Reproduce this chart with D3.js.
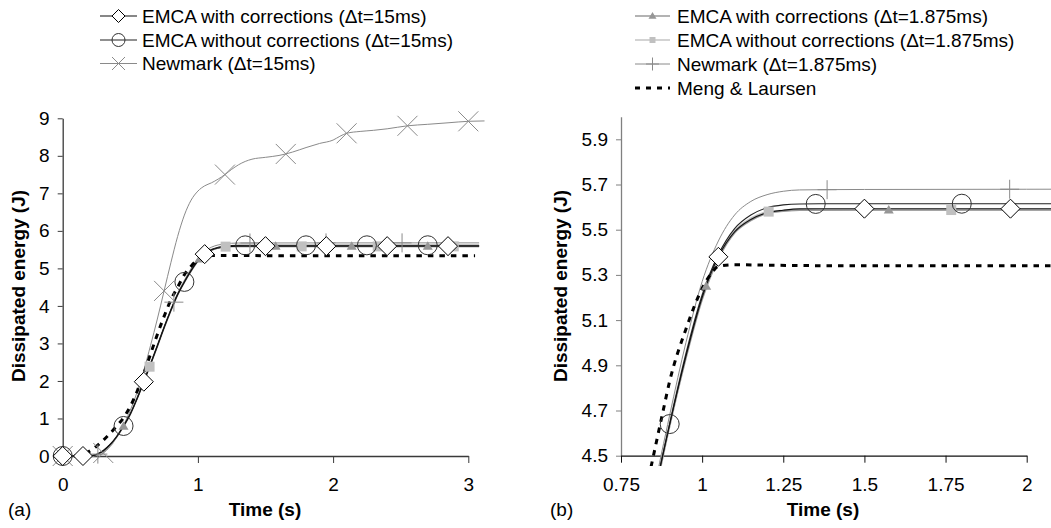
<!DOCTYPE html>
<html><head><meta charset="utf-8">
<script src="https://cdn.jsdelivr.net/npm/d3@7"></script>
<style>
html,body{margin:0;padding:0;background:#fff;}
svg{display:block;font-family:"Liberation Sans",Arial,sans-serif;}
</style></head><body>
<svg id="chart" width="1051" height="528"></svg>
<script>
// ---------- DATA (time s, dissipated energy J) ----------
const seriesNames = [
  "EMCA with corrections (\u0394t=15ms)",
  "EMCA without corrections (\u0394t=15ms)",
  "Newmark (\u0394t=15ms)",
  "EMCA with corrections (\u0394t=1.875ms)",
  "EMCA without corrections (\u0394t=1.875ms)",
  "Newmark (\u0394t=1.875ms)",
  "Meng & Laursen"
];
const emcaCorr15 = [[0,0],[0.15,0],[0.2,0.005],[0.25,0.04],[0.3,0.14],[0.35,0.3],[0.4,0.52],[0.45,0.8],[0.5,1.12],[0.55,1.53],[0.6,1.98],[0.65,2.45],[0.7,2.93],[0.75,3.42],[0.8,3.88],[0.85,4.3],[0.9,4.64],[0.95,4.94],[1.0,5.2],[1.05,5.38],[1.1,5.49],[1.15,5.545],[1.2,5.575],[1.25,5.586],[1.3,5.592],[1.5,5.593],[2.0,5.593],[2.5,5.593],[3.08,5.593]];
const emcaNoCorr15 = [[0,0],[0.15,0],[0.2,0.005],[0.25,0.04],[0.3,0.14],[0.35,0.3],[0.4,0.52],[0.45,0.8],[0.5,1.12],[0.55,1.53],[0.6,1.99],[0.65,2.46],[0.7,2.94],[0.75,3.43],[0.8,3.89],[0.85,4.31],[0.9,4.64],[0.95,4.95],[1.0,5.21],[1.05,5.39],[1.1,5.505],[1.15,5.565],[1.2,5.597],[1.25,5.61],[1.3,5.614],[1.5,5.615],[2.0,5.615],[2.5,5.616],[3.08,5.618]];
const newmark15 = [[0,0],[0.2,0],[0.25,0.01],[0.3,0.08],[0.35,0.25],[0.4,0.5],[0.45,0.82],[0.5,1.22],[0.55,1.7],[0.6,2.28],[0.65,2.95],[0.7,3.65],[0.75,4.4],[0.8,5.15],[0.85,5.85],[0.9,6.42],[0.95,6.82],[1.0,7.06],[1.05,7.2],[1.1,7.28],[1.15,7.38],[1.2,7.5],[1.25,7.64],[1.3,7.76],[1.35,7.85],[1.4,7.91],[1.5,7.96],[1.6,8.01],[1.65,8.05],[1.7,8.1],[1.8,8.22],[1.9,8.33],[2.0,8.42],[2.05,8.52],[2.1,8.6],[2.2,8.65],[2.3,8.68],[2.4,8.72],[2.55,8.8],[2.7,8.84],[2.85,8.88],[3.0,8.92],[3.12,8.93]];
const emcaCorr1875 = [[0,0],[0.2,0],[0.25,0.035],[0.3,0.13],[0.35,0.29],[0.4,0.51],[0.45,0.79],[0.5,1.11],[0.55,1.52],[0.6,1.97],[0.65,2.44],[0.7,2.92],[0.75,3.41],[0.8,3.87],[0.85,4.29],[0.9,4.63],[0.95,4.93],[1.0,5.19],[1.05,5.37],[1.1,5.485],[1.15,5.54],[1.2,5.572],[1.25,5.582],[1.3,5.586],[1.5,5.587],[2.0,5.587],[2.5,5.587],[3.08,5.587]];
const emcaNoCorr1875 = [[0,0],[0.2,0],[0.25,0.04],[0.3,0.14],[0.35,0.3],[0.4,0.52],[0.45,0.8],[0.5,1.13],[0.55,1.55],[0.6,2.0],[0.65,2.46],[0.7,2.94],[0.75,3.43],[0.8,3.89],[0.85,4.31],[0.9,4.65],[0.95,4.95],[1.0,5.21],[1.05,5.385],[1.1,5.495],[1.15,5.55],[1.2,5.578],[1.25,5.585],[1.3,5.587],[1.5,5.587],[2.0,5.587],[2.5,5.587],[3.08,5.587]];
const newmark1875 = [[0,0],[0.2,0],[0.25,0.04],[0.3,0.14],[0.35,0.3],[0.4,0.52],[0.45,0.8],[0.5,1.12],[0.55,1.53],[0.6,1.98],[0.65,2.45],[0.7,2.93],[0.75,3.43],[0.8,3.9],[0.85,4.33],[0.9,4.68],[0.95,5.0],[1.0,5.27],[1.05,5.45],[1.1,5.565],[1.15,5.625],[1.2,5.655],[1.25,5.67],[1.3,5.676],[1.5,5.678],[2.0,5.679],[2.5,5.68],[3.08,5.68]];
const mengLaursen = [[0,0],[0.1,0],[0.15,0.04],[0.2,0.13],[0.25,0.26],[0.3,0.42],[0.35,0.6],[0.4,0.8],[0.45,1.02],[0.5,1.32],[0.55,1.72],[0.6,2.2],[0.65,2.72],[0.7,3.24],[0.75,3.72],[0.8,4.16],[0.85,4.5],[0.88,4.7],[0.9,4.83],[0.95,5.06],[1.0,5.24],[1.03,5.31],[1.05,5.338],[1.1,5.345],[1.2,5.343],[1.5,5.34],[2.0,5.34],[3.05,5.34]];

const emcaCorr15Markers = [[0,0],[0.15,0],[0.6,1.98],[1.05,5.38],[1.5,5.593],[1.95,5.593],[2.4,5.593],[2.85,5.593]];
const emcaNoCorr15Markers = [[0,0],[0.45,0.8],[0.9,4.64],[1.35,5.614],[1.8,5.615],[2.25,5.615],[2.7,5.616]];
const newmark15Markers = [[0,0],[0.3,0.08],[0.75,4.4],[1.2,7.5],[1.65,8.05],[2.1,8.6],[2.55,8.8],[3.0,8.92]];
const emcaCorr1875Markers = [[0,0],[0.45,0.79],[1.0125,5.25],[1.575,5.587],[2.1375,5.587],[2.7,5.587]];
const emcaNoCorr1875Markers = [[0,0],[0.6425,2.38],[1.205,5.58],[1.7675,5.587],[2.33,5.587],[2.8925,5.587]];
const newmark1875Markers = [[0,0],[0.26,0.05],[0.8225,4.1],[1.385,5.677],[1.9475,5.679],[2.51,5.68]];

const xTicksA = [0,1,2,3];
const yTicksA = [0,1,2,3,4,5,6,7,8,9];
const xTicksB = [0.75,1,1.25,1.5,1.75,2];
const yTicksB = [4.5,4.7,4.9,5.1,5.3,5.5,5.7,5.9];
const xTitle = "Time (s)";
const yTitle = "Dissipated energy (J)";
const panelLabels = ["(a)","(b)"];

// ---------- STYLES ----------
const styles = [
  {line:"#111", lw:1.1, marker:"diamond", ms:9.5, mstroke:"#000", mfill:"#fff", lms:6.5},
  {line:"#222", lw:1.1, marker:"circle", ms:9.5, mstroke:"#333", mfill:"none", lms:6.5},
  {line:"#8a8a8a", lw:1, marker:"x", ms:10, mstroke:"#8a8a8a", mfill:"none", lms:6.5},
  {line:"#9a9a9a", lw:1.6, marker:"triangle", ms:10, mstroke:"none", mfill:"#969696", lms:8},
  {line:"#c4c4c4", lw:1.8, marker:"square", ms:10, mstroke:"none", mfill:"#c0c0c0", lms:6},
  {line:"#8a8a8a", lw:1, marker:"plus", ms:9.5, mstroke:"#8a8a8a", mfill:"none", lms:6.5},
  {line:"#000", lw:3, dash:"5.5,6", marker:null}
];
const lineData = [emcaCorr15, emcaNoCorr15, newmark15, emcaCorr1875, emcaNoCorr1875, newmark1875, mengLaursen];
const markerData = [emcaCorr15Markers, emcaNoCorr15Markers, newmark15Markers, emcaCorr1875Markers, emcaNoCorr1875Markers, newmark1875Markers, []];

function symbolPath(type, s){
  switch(type){
    case "diamond": return `M0,${-s}L${s},0L0,${s}L${-s},0Z`;
    case "circle": return d3.arc()({innerRadius:0,outerRadius:s,startAngle:0,endAngle:2*Math.PI});
    case "x": return `M${-s},${-s}L${s},${s}M${-s},${s}L${s},${-s}`;
    case "triangle": return `M0,${-s*0.5}L${s*0.5},${s*0.35}L${-s*0.5},${s*0.35}Z`;
    case "square": return `M${-s/2},${-s/2}h${s}v${s}h${-s}Z`;
    case "plus": return `M${-s},0L${s},0M0,${-s}L0,${s}`;
  }
  return "";
}
function drawMarker(g, st, x, y, s){
  g.append("path").attr("transform",`translate(${x},${y})`)
    .attr("d", symbolPath(st.marker, s))
    .attr("fill", st.mfill).attr("stroke", st.mstroke === "none" ? "none" : st.mstroke)
    .attr("stroke-width", 1);
}

const svg = d3.select("#chart");
const defs = svg.append("defs");

const panels = [
  {xDom:[0,3], xRange:[62.7,468.3], yDom:[0,9], yRange:[456,118.3], xTicks:xTicksA, yTicks:yTicksA,
   xFmt:d=>String(d), yFmt:d=>String(d), series:[0,1,2,3,4,5,6], axisY:"#3a3a3a", axisX:"#3a3a3a",
   clip:[40,100,450,380], yTitleX:18, xTitleX:265, label:panelLabels[0], labelX:8,
   legend:{entries:[0,1,2], x0:100, x1:137, tx:142, ys:[16,40,63.5]}},
  {xDom:[0.75,2], xRange:[621,1026.7], yDom:[4.5,6.0], yRange:[455.7,116.7], xTicks:xTicksB, yTicks:yTicksB,
   xFmt:d=>String(d), yFmt:d=>d.toFixed(1), series:[0,1,3,4,5,6], axisY:"#808080", axisX:"#111",
   clip:[621,100,430,366], yTitleX:560, xTitleX:823, label:panelLabels[1], labelX:550,
   legend:{entries:[3,4,5,6], x0:635, x1:670, tx:677, ys:[16,40,64,88]}}
];

panels.forEach((p, pi) => {
  const x = d3.scaleLinear().domain(p.xDom).range(p.xRange);
  const y = d3.scaleLinear().domain(p.yDom).range(p.yRange);
  const g = svg.append("g");

  // axes
  const yAxis = d3.axisLeft(y).tickValues(p.yTicks).tickFormat(p.yFmt).tickSize(5).tickSizeOuter(0).tickPadding(8);
  const gy = g.append("g").attr("transform",`translate(${p.xRange[0]},0)`).call(yAxis);
  gy.select(".domain").attr("stroke", p.axisY).attr("stroke-width",1.3);
  gy.selectAll(".tick line").attr("stroke", p.axisY);
  gy.selectAll("text").attr("font-size","19px").attr("fill","#000").attr("font-family",'"Liberation Sans",Arial,sans-serif');

  const xAxis = d3.axisBottom(x).tickValues(p.xTicks).tickFormat(p.xFmt).tickSize(7).tickSizeOuter(0).tickPadding(15);
  const gx = g.append("g").attr("transform",`translate(0,${p.yRange[0]})`).call(xAxis);
  gx.select(".domain").attr("stroke", p.axisX).attr("stroke-width",1.3);
  gx.selectAll(".tick line").attr("stroke", p.axisX);
  gx.selectAll("text").attr("font-size","19px").attr("fill","#000").attr("font-family",'"Liberation Sans",Arial,sans-serif');

  // titles
  g.append("text").attr("x", p.xTitleX).attr("y", 516).attr("text-anchor","middle")
    .attr("font-size","19px").attr("font-weight","bold").text(xTitle);
  g.append("text").attr("transform",`translate(${p.yTitleX},286) rotate(-90)`).attr("text-anchor","middle")
    .attr("dominant-baseline","central").attr("font-size","19px").attr("font-weight","bold").text(yTitle);
  g.append("text").attr("x", p.labelX).attr("y", 516).attr("font-size","19px").text(p.label);

  // clip
  const cid = "clip" + pi;
  defs.append("clipPath").attr("id", cid).append("rect")
    .attr("x", p.clip[0]).attr("y", p.clip[1]).attr("width", p.clip[2]).attr("height", p.clip[3]);
  const plot = g.append("g").attr("clip-path", `url(#${cid})`);

  const line = d3.line().x(d=>x(d[0])).y(d=>y(d[1])).curve(d3.curveMonotoneX);
  const order = [4,3,5,2,1,0,6].filter(i => p.series.includes(i));
  order.forEach(i => {
    const st = styles[i];
    plot.append("path").datum(lineData[i]).attr("d", line)
      .attr("fill","none").attr("stroke", st.line).attr("stroke-width", st.lw)
      .attr("stroke-dasharray", st.dash || null);
  });
  order.forEach(i => {
    const st = styles[i];
    if (!st.marker) return;
    markerData[i].forEach(d => {
      if (d[0] < p.xDom[0] - 0.02 || d[1] < p.yDom[0] - 0.05) return;
      drawMarker(plot, st, x(d[0]), y(d[1]), st.ms);
    });
  });

  // legend
  const L = p.legend;
  const lg = svg.append("g");
  L.entries.forEach((i, k) => {
    const st = styles[i];
    const yy = L.ys[k];
    lg.append("line").attr("x1", L.x0).attr("x2", L.x1).attr("y1", yy).attr("y2", yy)
      .attr("stroke", st.line).attr("stroke-width", st.dash ? 3 : Math.min(st.lw,1.3))
      .attr("stroke-dasharray", st.dash ? "5,6" : null);
    if (st.marker) drawMarker(lg, st, (L.x0+L.x1)/2, yy, st.lms);
    lg.append("text").attr("x", L.tx).attr("y", yy).attr("dominant-baseline","central")
      .attr("font-size","19px").attr("fill","#000").text(seriesNames[i]);
  });
});
</script></body></html>
